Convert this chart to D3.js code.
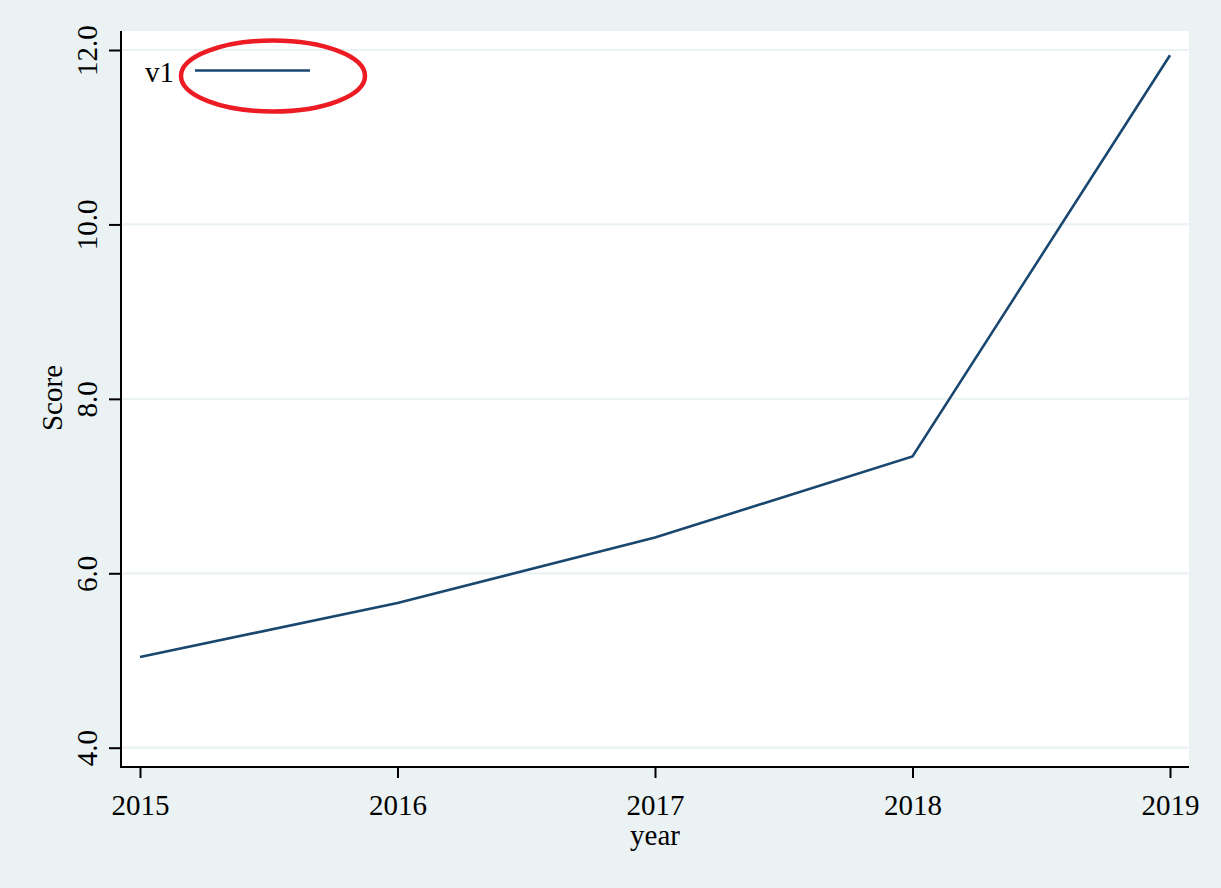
<!DOCTYPE html>
<html><head><meta charset="utf-8">
<script src="https://cdn.jsdelivr.net/npm/d3@7"></script>
<style>html,body{margin:0;padding:0;background:#EAF2F3;}svg{display:block;}</style>
</head><body>
<script>
const years = [2015, 2016, 2017, 2018, 2019];
const v1 = [5.04, 5.66, 6.41, 7.34, 11.94];
const yTicks = [4, 6, 8, 10, 12];
const seriesName = "v1";
const xTitle = "year";
const yTitle = "Score";

const W = 1221, H = 888;
const plot = {left: 121, right: 1189, top: 31, bottom: 767};
const font = "'Liberation Serif','Times New Roman',serif";
const navy = "#1A476F", bg = "#EAF2F3";

const svg = d3.select("body").append("svg").attr("width", W).attr("height", H);
svg.append("rect").attr("width", W).attr("height", H).attr("fill", bg);
svg.append("rect").attr("x", plot.left).attr("y", plot.top)
  .attr("width", plot.right - plot.left).attr("height", plot.bottom - plot.top).attr("fill", "#fff");

const x = d3.scaleLinear().domain([2015, 2019]).range([140, 1170]);
const y = d3.scaleLinear().domain([4, 12]).range([747.7, 50]);

// gridlines
svg.append("g").selectAll("line").data(yTicks).join("line")
  .attr("x1", plot.left).attr("x2", plot.right)
  .attr("y1", d => y(d)).attr("y2", d => y(d))
  .attr("stroke", bg).attr("stroke-width", 2.2);

// y axis
const yAxis = svg.append("g").attr("transform", `translate(${plot.left},0)`)
  .call(d3.axisLeft(y).tickValues(yTicks).tickFormat(d3.format(".1f")).tickSize(12).tickSizeOuter(0));
yAxis.select(".domain").remove();
yAxis.selectAll(".tick line").attr("stroke", "#000").attr("stroke-width", 2);
yAxis.selectAll(".tick text")
  .attr("font-family", font).attr("font-size", 29).attr("fill", "#000")
  .attr("text-anchor", "middle").attr("x", 0).attr("dy", 0)
  .attr("transform", "translate(-24,0) rotate(-90)");

// x axis
const xAxis = svg.append("g").attr("transform", `translate(0,${plot.bottom})`)
  .call(d3.axisBottom(x).tickValues(years).tickFormat(d3.format("d")).tickSize(11).tickSizeOuter(0));
xAxis.select(".domain").remove();
xAxis.selectAll(".tick line").attr("stroke", "#000").attr("stroke-width", 2);
xAxis.selectAll(".tick text")
  .attr("font-family", font).attr("font-size", 29).attr("fill", "#000")
  .attr("y", 48).attr("dy", 0);

// axis lines
svg.append("line").attr("x1", plot.left).attr("x2", plot.left).attr("y1", plot.top).attr("y2", plot.bottom + 1)
  .attr("stroke", "#000").attr("stroke-width", 2);
svg.append("line").attr("x1", plot.left - 1).attr("x2", plot.right).attr("y1", plot.bottom).attr("y2", plot.bottom)
  .attr("stroke", "#000").attr("stroke-width", 2);

// series line
const data = years.map((yr, i) => ({yr, v: v1[i]}));
svg.append("path").datum(data)
  .attr("d", d3.line().x(d => x(d.yr)).y(d => y(d.v)))
  .attr("fill", "none").attr("stroke", navy).attr("stroke-width", 2.6);

// axis titles
svg.append("text").attr("x", 655).attr("y", 845).attr("text-anchor", "middle")
  .attr("font-family", font).attr("font-size", 29).attr("fill", "#000").text(xTitle);
svg.append("text").attr("transform", "translate(62,398) rotate(-90)").attr("text-anchor", "middle")
  .attr("font-family", font).attr("font-size", 29).attr("fill", "#000").text(yTitle);

// legend
svg.append("text").attr("x", 145).attr("y", 82).attr("font-family", font).attr("font-size", 29)
  .attr("fill", "#000").text(seriesName);
svg.append("line").attr("x1", 195).attr("x2", 310).attr("y1", 70.5).attr("y2", 70.5)
  .attr("stroke", navy).attr("stroke-width", 2.6);

// red annotation ellipse
svg.append("ellipse").attr("cx", 273).attr("cy", 76).attr("rx", 92).attr("ry", 35.5)
  .attr("fill", "none").attr("stroke", "#ED1C24").attr("stroke-width", 4.5);
</script>
</body></html>
